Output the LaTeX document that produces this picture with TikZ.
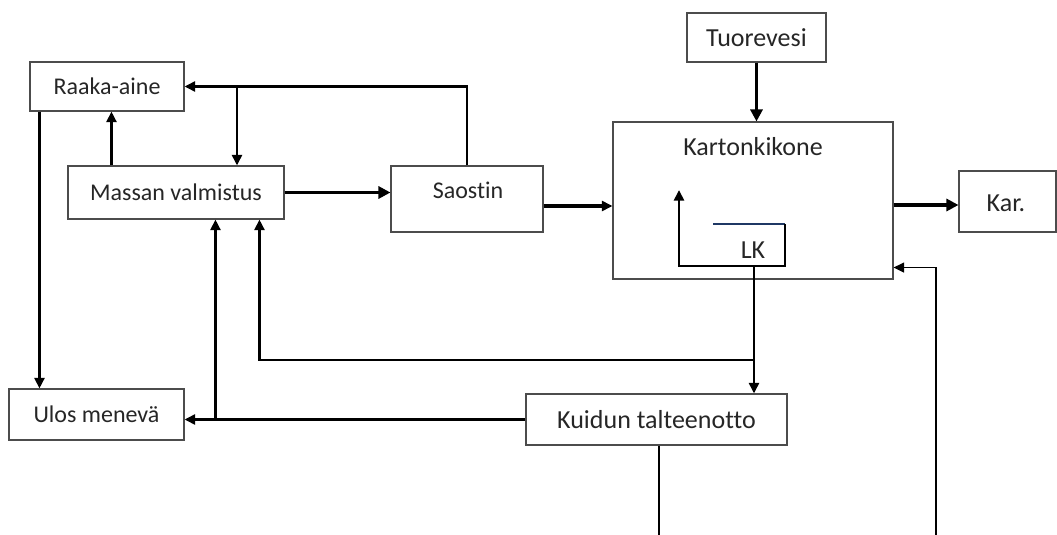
\documentclass[tikz,border=0pt]{standalone}
\usepackage{fontspec}
\setmainfont{Carlito}[Ligatures={NoCommon}]
\usetikzlibrary{arrows.meta,calc}
\begin{document}
\begin{tikzpicture}[x=0.75pt,y=-0.75pt,
  box/.style={draw=black!70,line width=0.8pt,rectangle,inner sep=0pt},
  lbl/.style={font=\fontsize{18}{20}\selectfont,text=black!85},
  lblb/.style={font=\fontsize{19.5}{22}\selectfont,text=black!85},
  arr/.style={-{Triangle[length=8pt,width=7.5pt]}},
  arrA/.style={-{Triangle[length=9pt,width=9pt]}},
  lwA/.style={line width=2.8pt},
  lwB/.style={line width=2.2pt},
  lwS/.style={line width=2.5pt},
  lwC/.style={line width=1.1pt}]
\useasboundingbox (0,0) rectangle (1057,535);
% boxes
\node[box,lbl,minimum width=115.5pt,minimum height=36.75pt] (raaka) at (107,86.5) {Raaka-aine};
\node[box,lbl,minimum width=162pt,minimum height=39.75pt] (massan) at (176,192.5) {Massan valmistus};
\node[box,minimum width=114pt,minimum height=49.5pt] (saostin) at (467,199) {};
\node[lbl,inner sep=0pt] (tsaostin) at (468,190) {Saostin};
\node[box,minimum width=210pt,minimum height=117.75pt] (kone) at (753,200.5) {};
\node[lblb,inner sep=0pt] (tkone) at (753,147) {Kartonkikone};
\node[box,lblb,minimum width=104.25pt,minimum height=36.75pt] (tuore) at (756.5,37.5) {Tuorevesi};
\node[box,minimum width=72.75pt,minimum height=45.75pt] (kar) at (1007.5,201.5) {};
\node[lblb,inner sep=0pt] (tkar) at (1006,203) {Kar.};
\node[box,lbl,minimum width=131.25pt,minimum height=38.25pt] (ulos) at (96.5,414.5) {Ulos menevä};
\node[box,lblb,minimum width=195.75pt,minimum height=38.25pt] (kuidun) at (656.5,419.5) {Kuidun talteenotto};
\node[lblb,inner sep=0pt] (lk) at (753,250) {LK};
% coordinates
\coordinate (j1) at (237,86.5);
\coordinate (j2) at (754,360);
\coordinate (m1) at ($(massan.south west)+(192,0)$);
\coordinate (m2) at ($(massan.south west)+(148,0)$);
\coordinate (s1) at ($(saostin.east)+(0,7)$);
\coordinate (k1) at ($(kone.east)+(0,4.5)$);
\coordinate (k2) at ($(kone.south east)+(0,-12)$);
\coordinate (lkA) at (713,224);
\coordinate (lkB) at (785,224);
\coordinate (lkC) at (785,266);
\coordinate (lkD) at (679,266);
\coordinate (lkE) at (679,190);
\coordinate (lkM) at (754,266);
\coordinate (botK) at (659,535);
\coordinate (botR) at (936,535);
% connectors
\draw[lwB,arr] ($(raaka.south west)+(10,0)$) -- ($(ulos.north west)+(31,0)$);
\draw[lwB,arr] ($(massan.north west)+(44,0)$) -- ($(raaka.south west)+(82,0)$);
\draw[lwB,arr] (saostin.north) |- (raaka.east);
\draw[lwB,arr] (j1) -- (j1 |- massan.north);
\draw[lwA,arrA] (massan.east) -- (massan.east -| saostin.west);
\draw[lwS,arr] (s1) -- (s1 -| kone.west);
\draw[lwA,arrA] (k1) -- (k1 -| kar.west);
\draw[lwA,arrA] (tuore.south) -- (tuore.south |- kone.north);
\draw[lwC,arr] (botR) |- (k2);
\draw[lwB,arr] (lkM) -- (lkM |- kuidun.north);
\draw[lwB,arr] (j2) -| (m1);
\draw[lwB,arr] (kuidun.west) -- (kuidun.west -| ulos.east);
\draw[lwB,arr] (m2 |- kuidun.west) -- (m2);
\draw[lwC] (botK |- kuidun.south) -- (botK);
\draw[line width=1.3pt,color={rgb,255:red,31;green,56;blue,100}] (lkA) -- (lkB);
\draw[lwB,arr] (lkB) -- (lkC) -- (lkD) -- (lkE);
\end{tikzpicture}
\end{document}
